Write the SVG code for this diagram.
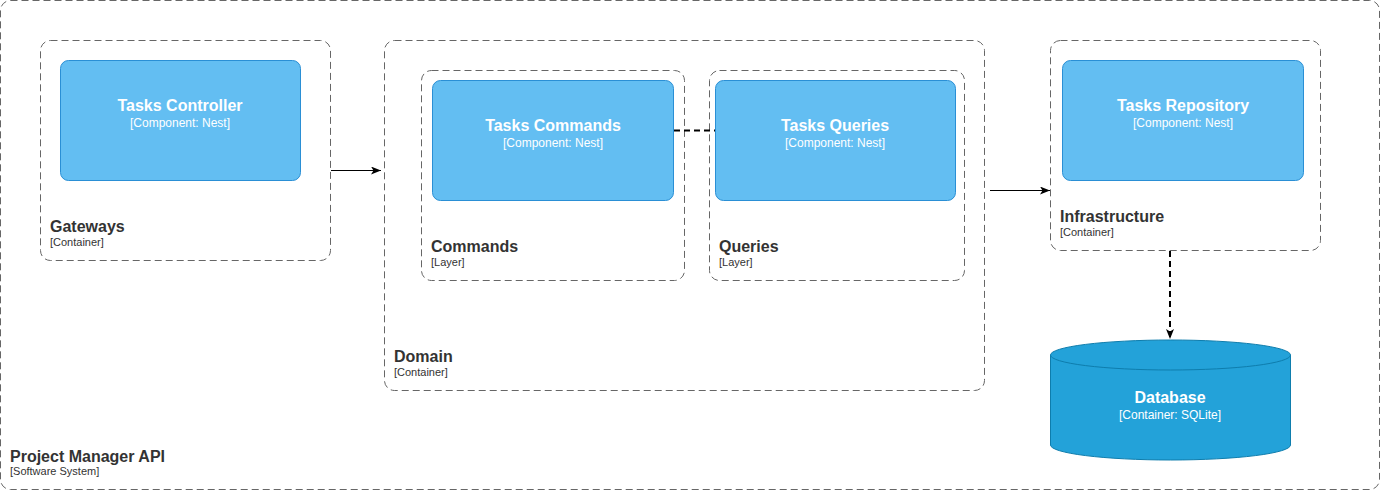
<svg xmlns="http://www.w3.org/2000/svg" width="1381" height="491" viewBox="0 0 1381 491">
<style>
.bound{fill:none;stroke:#666;stroke-width:1;stroke-dasharray:7 4}
.comp{fill:#63BEF2;stroke:#2A8FD5;stroke-width:1}
.db{fill:#23A2D9;stroke:#0E7DAD;stroke-width:1}
.t{font-family:"Liberation Sans",Arial,sans-serif;fill:#fff;text-anchor:middle}
.tb{font-size:16px;font-weight:bold}
.ts{font-size:12px}
.l{font-family:"Liberation Sans",Arial,sans-serif;fill:#333}
.lb{font-size:16px;font-weight:bold}
.ls{font-size:11px}
.c{fill:none;stroke:#000;stroke-width:1}
.cd{fill:none;stroke:#000;stroke-width:2;stroke-dasharray:6 4}
</style>
<defs>
<marker id="arr" viewBox="0 0 10 8" refX="10" refY="4" markerWidth="10" markerHeight="8" markerUnits="userSpaceOnUse" orient="auto">
<path d="M0,0 L10,4 L0,8 L2.5,4 Z" fill="#000"/>
</marker>
</defs>
<rect width="1381" height="491" fill="#fff"/>
<g id="system">
<rect class="bound" x="0.5" y="0.5" width="1379" height="489" rx="10"/>
<text class="l lb" x="10" y="462">Project Manager API</text>
<text class="l ls" x="10" y="475">[Software System]</text>
</g>
<g id="gateways">
<rect class="bound" x="40.5" y="40.5" width="290" height="220" rx="10"/>
<text class="l lb" x="50" y="232">Gateways</text>
<text class="l ls" x="50" y="246">[Container]</text>
</g>
<g id="tasks-controller">
<rect class="comp" x="60.5" y="60.5" width="240" height="120" rx="8"/>
<text class="t tb" x="180" y="111">Tasks Controller</text>
<text class="t ts" x="180" y="127">[Component: Nest]</text>
</g>
<g id="domain">
<rect class="bound" x="384.5" y="40.5" width="600" height="350" rx="10"/>
<text class="l lb" x="394" y="362">Domain</text>
<text class="l ls" x="394" y="376">[Container]</text>
</g>
<g id="commands">
<rect class="bound" x="421.5" y="70.5" width="263" height="210" rx="10"/>
<text class="l lb" x="431" y="252">Commands</text>
<text class="l ls" x="431" y="266">[Layer]</text>
</g>
<g id="tasks-commands">
<rect class="comp" x="432.5" y="80.5" width="241" height="120" rx="8"/>
<text class="t tb" x="553" y="131">Tasks Commands</text>
<text class="t ts" x="553" y="147">[Component: Nest]</text>
</g>
<g id="queries">
<rect class="bound" x="709.5" y="70.5" width="255" height="210" rx="10"/>
<text class="l lb" x="719" y="252">Queries</text>
<text class="l ls" x="719" y="266">[Layer]</text>
</g>
<g id="tasks-queries">
<rect class="comp" x="715.5" y="80.5" width="240" height="120" rx="8"/>
<text class="t tb" x="835" y="131">Tasks Queries</text>
<text class="t ts" x="835" y="147">[Component: Nest]</text>
</g>
<g id="infrastructure">
<rect class="bound" x="1050.5" y="40.5" width="270" height="210" rx="10"/>
<text class="l lb" x="1060" y="222">Infrastructure</text>
<text class="l ls" x="1060" y="236">[Container]</text>
</g>
<g id="tasks-repository">
<rect class="comp" x="1062.5" y="60.5" width="241" height="120" rx="8"/>
<text class="t tb" x="1183" y="111">Tasks Repository</text>
<text class="t ts" x="1183" y="127">[Component: Nest]</text>
</g>
<g id="database">
<path class="db" d="M1050.5,355 A120,15 0 0 1 1290.5,355 L1290.5,445 A120,15 0 0 1 1050.5,445 Z"/>
<path class="db" d="M1050.5,355 A120,15 0 0 0 1290.5,355" fill="none"/>
<text class="t tb" x="1170" y="403">Database</text>
<text class="t ts" x="1170" y="419">[Container: SQLite]</text>
</g>
<g id="connectors">
<line class="c" x1="331" y1="170.5" x2="381" y2="170.5" marker-end="url(#arr)"/>
<line class="c" x1="990" y1="190.5" x2="1050" y2="190.5" marker-end="url(#arr)"/>
<line class="cd" x1="674" y1="130.5" x2="715" y2="130.5"/>
<line class="cd" x1="1170" y1="251" x2="1170" y2="339" marker-end="url(#arr)"/>
</g>
</svg>
